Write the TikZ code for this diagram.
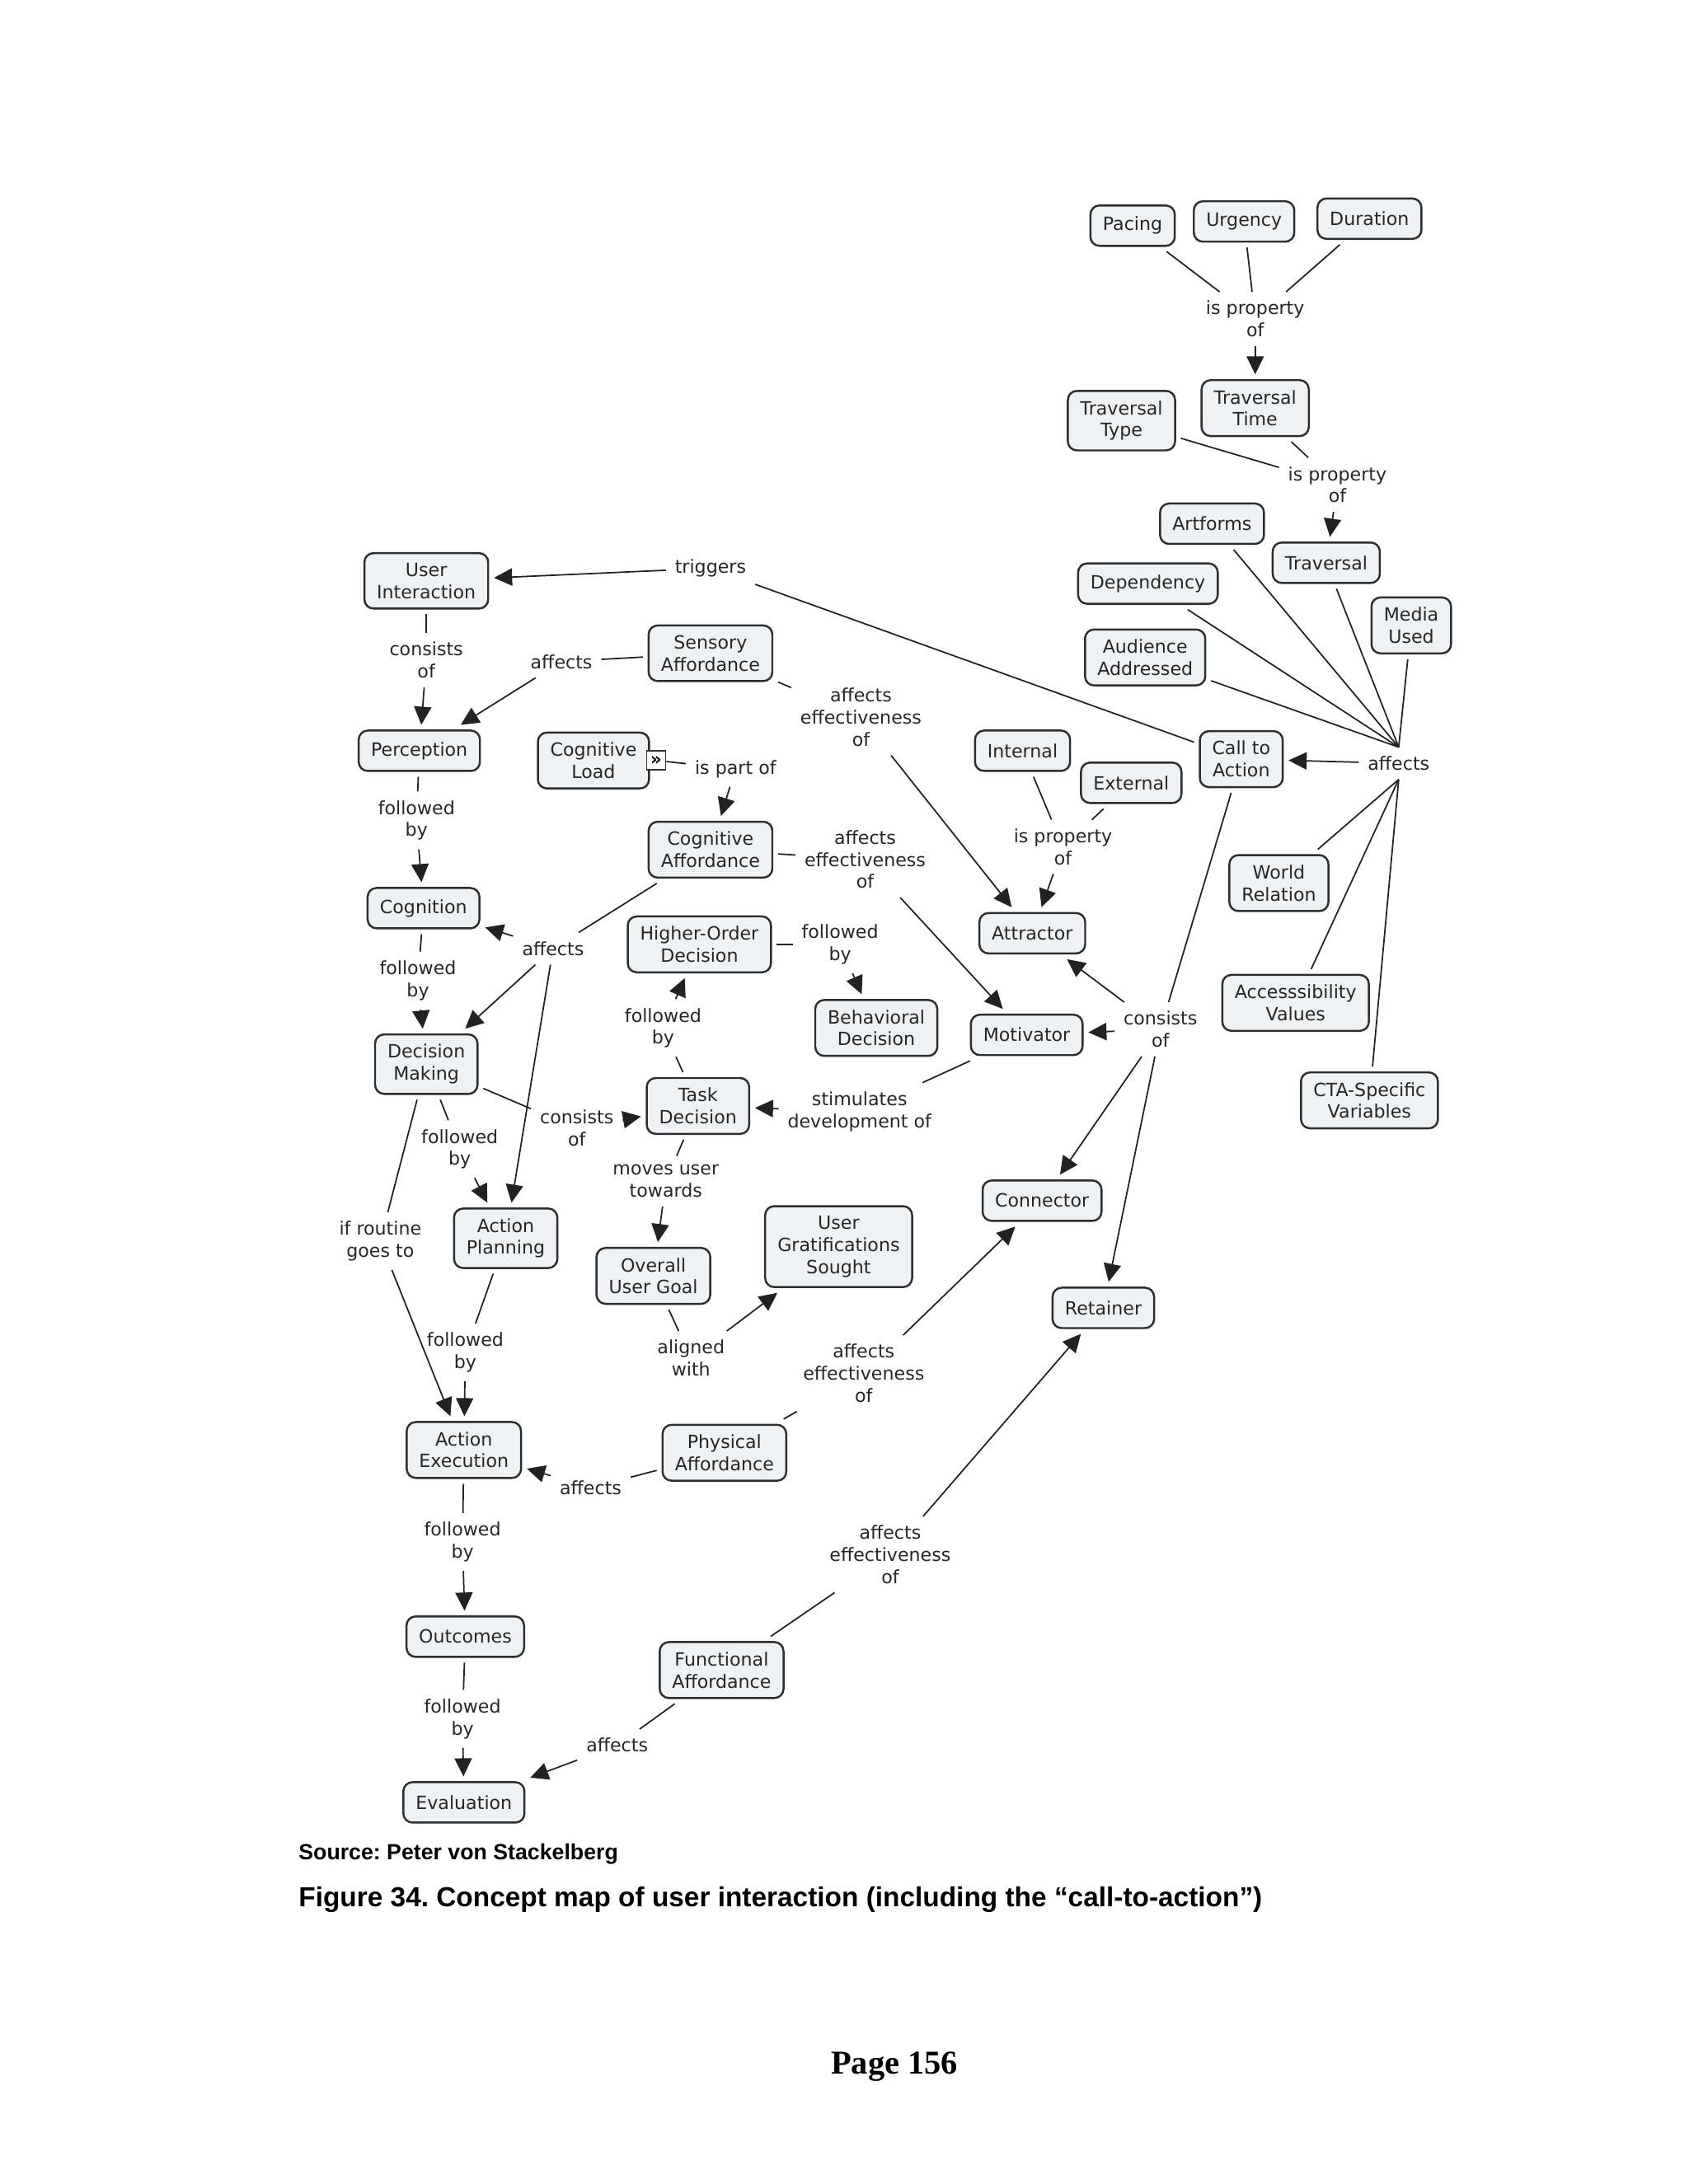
\documentclass[tikz,border=0pt]{standalone}
\usepackage{fontspec}
\setmainfont{DejaVu Sans}
\newfontfamily\capfont{Liberation Sans}
\newfontfamily\pagefont{Liberation Serif}
\usetikzlibrary{arrows.meta}
\frenchspacing

\definecolor{conceptfill}{HTML}{EEF2F4}
\definecolor{conceptline}{HTML}{2E2E2E}
\definecolor{linkgray}{HTML}{222222}

\tikzset{
  concept/.style={draw=conceptline, fill=conceptfill, rounded corners=1.1mm,
    line width=0.7pt, align=center, inner xsep=1.5mm, inner ysep=1.2mm,
    minimum height=4.9mm, outer sep=0.7mm,
    font=\fontsize{6.3}{7.6}\selectfont, text=black!85},
  linker/.style={align=center, inner sep=0.6mm, outer sep=0.5mm,
    font=\fontsize{6.3}{7.6}\selectfont, text=black!85},
  link/.style={draw=linkgray, line width=0.5pt},
  arr/.style={link, -{Triangle[length=2.2mm,width=2.1mm]}}
}

\begin{document}
\begin{tikzpicture}[x=0.16898mm, y=-0.16898mm]
\useasboundingbox (0,0) rectangle (1212,1568);

% time properties
\node[concept] (pacing) at (813,162) {Pacing};
\node[concept] (urgency) at (893,159) {Urgency};
\node[concept] (duration) at (983,157) {Duration};
\node[linker] (ppty1) at (901,229) {is property\\of};
\node[concept] (travtime) at (901,293) {Traversal\\Time};
\node[concept] (travtype) at (805,302) {Traversal\\Type};
\node[linker] (ppty2) at (960,348) {is property\\of};

% what affects the call to action
\node[concept] (artforms) at (870,376) {Artforms};
\node[concept] (traversal) at (952,404) {Traversal};
\node[concept] (dependency) at (824,419) {Dependency};
\node[concept] (media) at (1013,449) {Media\\Used};
\node[concept] (audience) at (822,472) {Audience\\Addressed};
\node[concept] (cta) at (891,545) {Call to\\Action};
\node[linker] (hub) at (1004,548) {affects};
\node[concept] (world) at (918,634) {World\\Relation};
\node[concept] (access) at (930,720) {Accesssibility\\Values};
\node[concept] (ctavars) at (983,790) {CTA-Specific\\Variables};

% parts of the call to action
\node[concept] (internal) at (734,539) {Internal};
\node[concept] (external) at (812,562) {External};
\node[linker] (ppty3) at (763,608) {is property\\of};
\node[concept] (attractor) at (741,670) {Attractor};
\node[concept] (motivator) at (737,743) {Motivator};
\node[linker] (ctacons) at (833,739) {consists\\of};
\node[concept] (connector) at (748,862) {Connector};
\node[concept] (retainer) at (792,939) {Retainer};

% user interaction chain
\node[concept] (userint) at (306,417) {User\\Interaction};
\node[linker] (triggers) at (510,408) {triggers};
\node[linker] (uicons) at (306,474) {consists\\of};
\node[concept] (perception) at (301,539) {Perception};
\node[linker] (percfol) at (299,589) {followed\\by};
\node[concept] (cognition) at (304,652) {Cognition};
\node[linker] (cognfol) at (300,704) {followed\\by};
\node[concept] (decision) at (306,764) {Decision\\Making};
\node[linker] (dmfol) at (330,825) {followed\\by};
\node[linker] (routine) at (273,891) {if routine\\goes to};
\node[concept] (planning) at (363,889) {Action\\Planning};
\node[linker] (planfol) at (334,971) {followed\\by};
\node[concept] (execution) at (333,1041) {Action\\Execution};
\node[linker] (execfol) at (332,1107) {followed\\by};
\node[concept] (outcomes) at (334,1175) {Outcomes};
\node[linker] (outfol) at (332,1234) {followed\\by};
\node[concept] (evaluation) at (333,1294) {Evaluation};

% affordances
\node[concept] (sensory) at (510,469) {Sensory\\Affordance};
\node[linker] (sensaff) at (403,475) {affects};
\node[linker] (senseff) at (618,515) {affects\\effectiveness\\of};
\node[concept] (cogload) at (426,546) {Cognitive\\Load};
\node[draw=conceptline, fill=white, line width=0.5pt, inner sep=0pt,
  minimum size=2.3mm, font=\fontsize{6}{6}\selectfont\bfseries] (cloadicon) at (471,546) {»};
\node[linker] (partof) at (528,552) {is part of};
\node[concept] (cogaff) at (510,610) {Cognitive\\Affordance};
\node[linker] (cogeff) at (621,617) {affects\\effectiveness\\of};
\node[linker] (cogaffects) at (397,681) {affects};
\node[concept] (physical) at (520,1043) {Physical\\Affordance};
\node[linker] (physaff) at (424,1068) {affects};
\node[linker] (physeff) at (620,986) {affects\\effectiveness\\of};
\node[concept] (functional) at (518,1199) {Functional\\Affordance};
\node[linker] (funcaff) at (443,1253) {affects};
\node[linker] (funceff) at (639,1116) {affects\\effectiveness\\of};

% decisions and goals
\node[concept] (higher) at (502,678) {Higher-Order\\Decision};
\node[linker] (highfol) at (603,678) {followed\\by};
\node[concept] (behav) at (629,738) {Behavioral\\Decision};
\node[linker] (taskfol) at (476,738) {followed\\by};
\node[concept] (task) at (501,794) {Task\\Decision};
\node[linker] (dmcons) at (414,810) {consists\\of};
\node[linker] (stim) at (617,798) {stimulates\\development of};
\node[linker] (moves) at (478,848) {moves user\\towards};
\node[concept] (goal) at (469,916) {Overall\\User Goal};
\node[linker] (aligned) at (496,975) {aligned\\with};
\node[concept] (gratif) at (602,895) {User\\Gratifications\\Sought};

% links
\draw[link] (pacing) -- (ppty1);
\draw[link] (urgency) -- (ppty1);
\draw[link] (duration) -- (ppty1);
\draw[arr] (ppty1) -- (travtime);
\draw[link] (travtype) -- (ppty2);
\draw[link] (travtime) -- (ppty2);
\draw[arr] (ppty2) -- (traversal);

\draw[link] (artforms) -- (hub.north);
\draw[link] (traversal) -- (hub.north);
\draw[link] (dependency) -- (hub.north);
\draw[link] (media) -- (hub.north);
\draw[link] (audience) -- (hub.north);
\draw[arr] (hub) -- (cta);
\draw[link] (hub.south) -- (world);
\draw[link] (hub.south) -- (access);
\draw[link] (hub.south) -- (ctavars);

\draw[link] (cta) -- (triggers);
\draw[arr] (triggers) -- (userint);
\draw[link] (cta) -- (ctacons);
\draw[arr] (ctacons) -- (attractor);
\draw[arr] (ctacons) -- (motivator);
\draw[arr] (ctacons) -- (connector);
\draw[arr] (ctacons) -- (retainer);
\draw[link] (internal) -- (ppty3);
\draw[link] (external) -- (ppty3);
\draw[arr] (ppty3) -- (attractor);

\draw[link] (userint) -- (uicons);
\draw[arr] (uicons) -- (perception);
\draw[link] (perception) -- (percfol);
\draw[arr] (percfol) -- (cognition);
\draw[link] (cognition) -- (cognfol);
\draw[arr] (cognfol) -- (decision);
\draw[link] (decision) -- (dmfol);
\draw[arr] (dmfol) -- (planning);
\draw[link] (decision) -- (routine);
\draw[arr] (routine) -- (execution);
\draw[link] (planning) -- (planfol);
\draw[arr] (planfol) -- (execution);
\draw[link] (execution) -- (execfol);
\draw[arr] (execfol) -- (outcomes);
\draw[link] (outcomes) -- (outfol);
\draw[arr] (outfol) -- (evaluation);

\draw[link] (sensory) -- (sensaff);
\draw[arr] (sensaff) -- (perception);
\draw[link] (sensory) -- (senseff);
\draw[arr] (senseff) -- (attractor);
\draw[link] (cloadicon) -- (partof);
\draw[arr] (partof) -- (cogaff);
\draw[link] (cogaff) -- (cogeff);
\draw[arr] (cogeff) -- (motivator);
\draw[link] (cogaff) -- (cogaffects);
\draw[arr] (cogaffects) -- (cognition);
\draw[arr] (cogaffects) -- (decision);
\draw[arr] (cogaffects) -- (planning);
\draw[link] (physical) -- (physaff);
\draw[arr] (physaff) -- (execution);
\draw[link] (physical) -- (physeff);
\draw[arr] (physeff) -- (connector);
\draw[link] (functional) -- (funcaff);
\draw[arr] (funcaff) -- (evaluation);
\draw[link] (functional) -- (funceff);
\draw[arr] (funceff) -- (retainer);

\draw[link] (higher) -- (highfol);
\draw[arr] (highfol) -- (behav);
\draw[link] (task) -- (taskfol);
\draw[arr] (taskfol) -- (higher);
\draw[link] (decision) -- (dmcons);
\draw[arr] (dmcons) -- (task);
\draw[link] (motivator) -- (stim);
\draw[arr] (stim) -- (task);
\draw[link] (task) -- (moves);
\draw[arr] (moves) -- (goal);
\draw[link] (goal) -- (aligned);
\draw[arr] (aligned) -- (gratif);

% caption and page number
\node[anchor=west, inner sep=0, font=\capfont\bfseries\fontsize{7.6}{9}\selectfont]
  (source) at (214,1331) {Source: Peter von Stackelberg};
\node[anchor=west, inner sep=0, font=\capfont\bfseries\fontsize{9.5}{11}\selectfont]
  (figcap) at (214,1364) {Figure 34. Concept map of user interaction (including the “call-to-action”)};
\node[inner sep=0, font=\pagefont\bfseries\fontsize{11.5}{13}\selectfont]
  (pagenum) at (642,1484) {Page 156};
\end{tikzpicture}
\end{document}
